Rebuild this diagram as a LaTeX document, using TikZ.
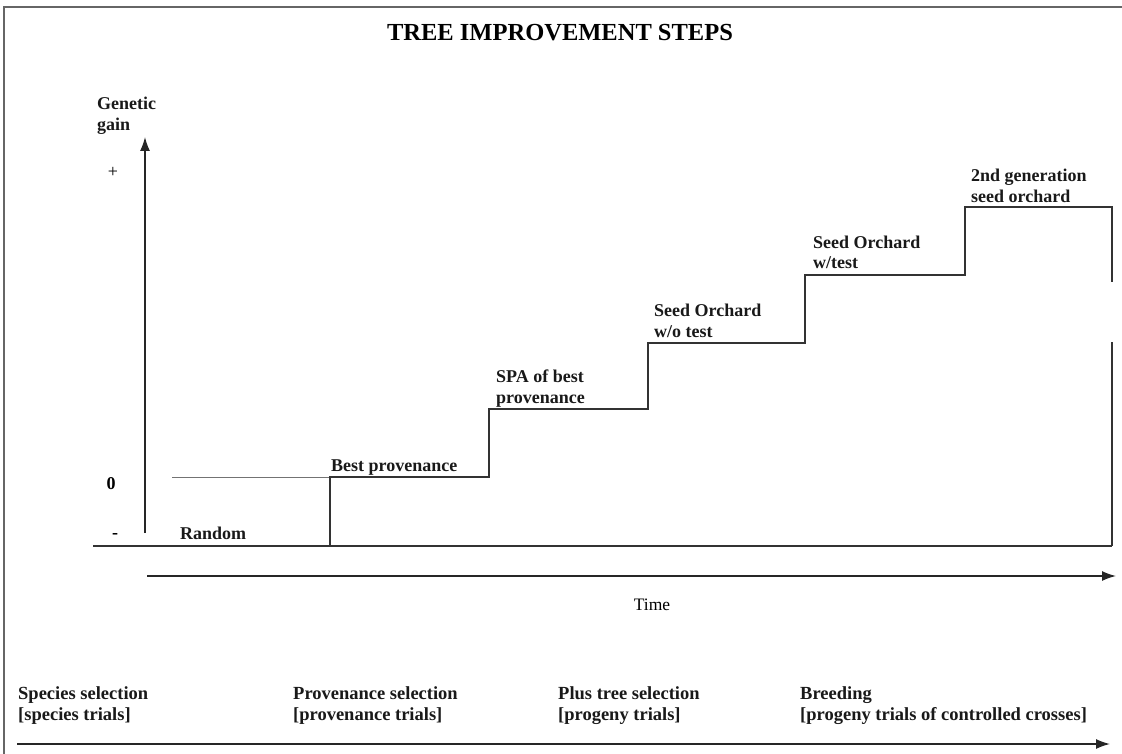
\documentclass[tikz,border=0pt]{standalone}
\usepackage{fontspec}
\setmainfont{Liberation Serif}
\usetikzlibrary{arrows.meta}
\begin{document}
\begin{tikzpicture}[x=1pt,y=-1pt,
  lbl/.style={inner sep=0pt,anchor=base west,font=\fontsize{18}{20}\selectfont\bfseries,text=black!90},
  btm/.style={inner sep=0pt,anchor=base west,font=\fontsize{18.5}{20}\selectfont\bfseries,text=black!90},
  ln/.style={line width=1.3pt,draw=black!80},
  arr/.style={line width=1.5pt,draw=black!85,-{Latex[length=14pt,width=10pt]}},
  frame/.style={line width=1.6pt,draw=black!60}]
\useasboundingbox (0,0) rectangle (1122,754);
% frame
\draw[frame] (4,754) -- (4,7) -- (1122,7);
% title
\node[inner sep=0pt,anchor=base,font=\fontsize{24.5}{27}\selectfont\bfseries] (title) at (560,41) {TREE IMPROVEMENT STEPS};
% y axis
\coordinate (ybot) at (145,533);
\coordinate (ytop) at (145,137);
\draw[arr,line width=1.3pt] (ybot) -- (ytop);
\node[lbl] (gen1) at (97,110) {Genetic};
\node[lbl] (gen2) at (97,131) {gain};
\node[inner sep=0pt,anchor=base,font=\fontsize{18}{20}\selectfont] (plus) at (113,178) {+};
\node[inner sep=0pt,anchor=base,font=\fontsize{18}{20}\selectfont\bfseries] (zero) at (111,489) {0};
\node[inner sep=0pt,anchor=base,font=\fontsize{18}{20}\selectfont\bfseries] (minus) at (115,538) {-};
\node[lbl] (random) at (180,539) {Random};
% baseline
\coordinate (b0) at (93,546);
\coordinate (b1) at (1112,546);
\draw[ln] (b0) -- (b1);
% zero level
\coordinate (z0) at (172,477);
\coordinate (z1) at (330,477);
\draw[line width=1pt,draw=black!55] (z0) -- (z1);
% steps
\coordinate (s1b) at (330,546);
\coordinate (s1t) at (330,477);
\coordinate (s2a) at (489,477);
\coordinate (s2b) at (489,409);
\coordinate (s3a) at (648,409);
\coordinate (s3b) at (648,343);
\coordinate (s4a) at (805,343);
\coordinate (s4b) at (805,275);
\coordinate (s5a) at (965,275);
\coordinate (s5b) at (965,207);
\coordinate (s6a) at (1112,207);
\coordinate (s6b) at (1112,282);
\coordinate (r1) at (1112,342);
\draw[ln] (s1b) -- (s1t) -- (s2a) -- (s2b) -- (s3a) -- (s3b) -- (s4a) -- (s4b) -- (s5a) -- (s5b) -- (s6a) -- (s6b);
\draw[ln] (r1) -- (b1);
% step labels
\node[lbl] (bp) at (331,471) {Best provenance};
\node[lbl] (spa1) at (496,382) {SPA of best};
\node[lbl] (spa2) at (496,403) {provenance};
\node[lbl] (so1) at (654,316) {Seed Orchard};
\node[lbl] (so2) at (654,337) {w/o test};
\node[lbl] (sw1) at (813,248) {Seed Orchard};
\node[lbl] (sw2) at (813,269) {w/test};
\node[lbl] (g1) at (971,182) {2nd generation};
\node[lbl] (g2) at (971,203) {seed orchard};
% time axis
\coordinate (t0) at (147,576);
\coordinate (t1) at (1116,576);
\draw[arr] (t0) -- (t1);
\node[inner sep=0pt,anchor=base,font=\fontsize{17.5}{20}\selectfont] (time) at (652,610) {Time};
% bottom phases
\node[btm] (p1a) at (18,699) {Species selection};
\node[btm] (p1b) at (18,720) {[species trials]};
\node[btm] (p2a) at (293,699) {Provenance selection};
\node[btm] (p2b) at (293,720) {[provenance trials]};
\node[btm] (p3a) at (558,699) {Plus tree selection};
\node[btm] (p3b) at (558,720) {[progeny trials]};
\node[btm] (p4a) at (800,699) {Breeding};
\node[btm] (p4b) at (800,720) {[progeny trials of controlled crosses]};
\coordinate (q0) at (17,744);
\coordinate (q1) at (1110,744);
\draw[arr] (q0) -- (q1);
\end{tikzpicture}
\end{document}
